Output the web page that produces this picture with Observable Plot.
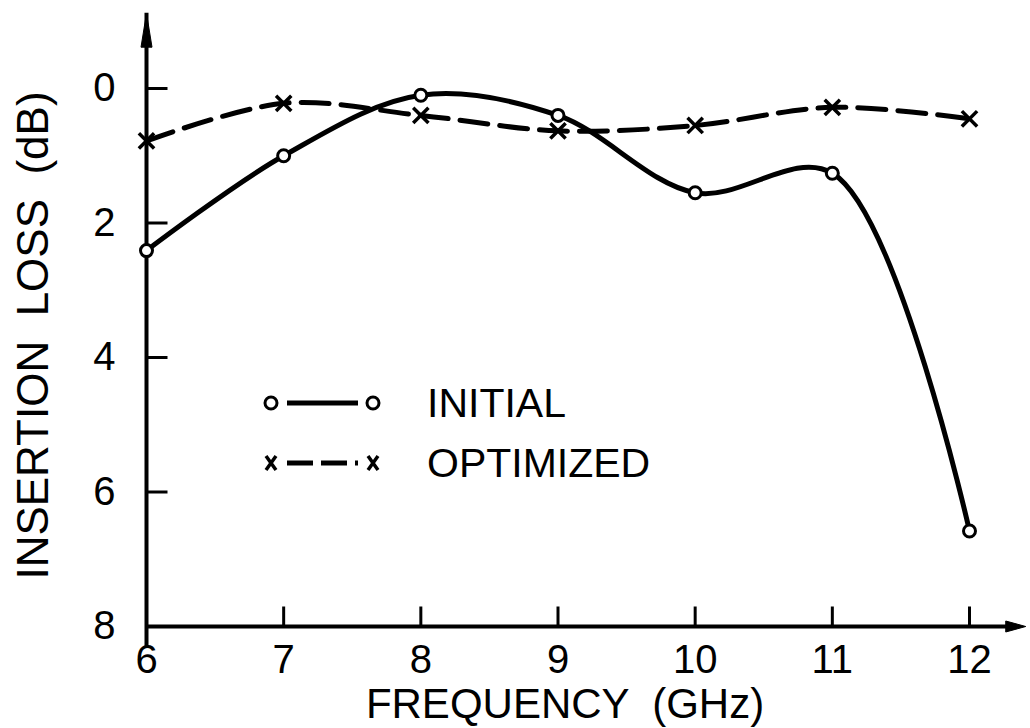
<!DOCTYPE html>
<html><head><meta charset="utf-8">
<script src="https://cdn.jsdelivr.net/npm/d3@7"></script>
<script src="https://cdn.jsdelivr.net/npm/@observablehq/plot@0.6"></script>
<style>
html,body{margin:0;padding:0;background:#fff;}
#wrap{position:relative;width:1030px;height:728px;overflow:hidden;}
#legend{position:absolute;left:0;top:0;}
</style></head><body><div id="wrap"></div>
<script>
const frequencies = [6, 7, 8, 9, 10, 11, 12];
const initialLoss = [2.41, 1.0, 0.1, 0.4, 1.55, 1.26, 6.58];
const optimizedLoss = [0.78, 0.22, 0.4, 0.63, 0.55, 0.28, 0.45];
const xTicks = [6, 7, 8, 9, 10, 11, 12];
const yTicks = [0, 2, 4, 6, 8];
const seriesNames = ["INITIAL", "OPTIMIZED"];
const xTitle = "FREQUENCY  (GHz)";
const yTitle = "INSERTION  LOSS  (dB)";
const xAxisEnd = 12.41;
const yAxisEnd = -1.12;

const initial = frequencies.map((f, i) => ({f, v: initialLoss[i]}));
const optimized = frequencies.map((f, i) => ({f, v: optimizedLoss[i]}));
const font = "'Liberation Sans', Arial, sans-serif";
const xMin = xTicks[0], yMax = yTicks[yTicks.length - 1];

// custom symbols drawn in screen pixels relative to the anchor point
const headUp = {draw(ctx) { ctx.moveTo(0, 0); ctx.lineTo(5.5, 34); ctx.lineTo(-5.5, 34); ctx.closePath(); }};
const headRight = {draw(ctx) { ctx.moveTo(0, 0); ctx.lineTo(-20, 5.5); ctx.lineTo(-20, -5.5); ctx.closePath(); }};
const tickUp = {draw(ctx) { ctx.moveTo(0, 0); ctx.lineTo(0, -20); }};
const tickRight = {draw(ctx) { ctx.moveTo(0, 0); ctx.lineTo(21, 0); }};

const chart = Plot.plot({
  width: 1030, height: 728,
  marginLeft: 146, marginRight: 61, marginTop: 88, marginBottom: 102,
  style: {fontFamily: font, background: "#fff", color: "#000", overflow: "visible"},
  x: {domain: [xMin, xTicks[xTicks.length - 1]]},
  y: {domain: [yTicks[0], yMax], reverse: true},
  marks: [
    // tick labels (tick marks drawn separately, pointing inward)
    Plot.axisX({ticks: xTicks, tickSize: 0, tickPadding: 18, fontSize: 40, label: null, tickFormat: d => String(d)}),
    Plot.axisY({ticks: yTicks, tickSize: 0, tickPadding: 31, fontSize: 40, label: null, tickFormat: d => String(d)}),
    Plot.dot(xTicks.filter(d => d > xMin), {x: d => d, y: yMax, symbol: tickUp, stroke: "#000", strokeWidth: 3, fill: "none"}),
    Plot.dot(yTicks.filter(d => d < yMax), {x: xMin, y: d => d, symbol: tickRight, stroke: "#000", strokeWidth: 3, fill: "none"}),
    // axis lines with filled arrow heads
    Plot.ruleX([xMin], {y1: yMax, y2: yAxisEnd, stroke: "#000", strokeWidth: 4, insetTop: 20}),
    Plot.ruleY([yMax], {x1: xMin, x2: xAxisEnd, stroke: "#000", strokeWidth: 4, insetRight: 10}),
    Plot.dot([{x: xMin, y: yAxisEnd}], {x: "x", y: "y", symbol: headUp, fill: "#000", stroke: "#000", strokeWidth: 1}),
    Plot.dot([{x: xAxisEnd, y: yMax}], {x: "x", y: "y", symbol: headRight, fill: "#000", stroke: "#000", strokeWidth: 1}),
    Plot.line(initial, {x: "f", y: "v", curve: "catmull-rom", stroke: "#000", strokeWidth: 5}),
    Plot.line(optimized, {x: "f", y: "v", curve: "catmull-rom", stroke: "#000", strokeWidth: 5, strokeDasharray: "28,12"}),
    Plot.dot(initial, {x: "f", y: "v", r: 6, fill: "#fff", stroke: "#000", strokeWidth: 3}),
    Plot.dot(optimized, {x: "f", y: "v", symbol: "times", r: 7, stroke: "#000", strokeWidth: 3.5}),
    Plot.text([yTitle], {frameAnchor: "left", textAnchor: "middle", lineAnchor: "middle", rotate: -90, dx: -113, dy: -22, fontSize: 44, fill: "#000"}),
    Plot.text([xTitle], {frameAnchor: "bottom", textAnchor: "middle", lineAnchor: "middle", dx: 7, dy: 78, fontSize: 42, fill: "#000"})
  ]
});
const wrap = document.getElementById("wrap");
wrap.appendChild(chart);

// legend overlay
const ns = "http://www.w3.org/2000/svg";
const lg = document.createElementNS(ns, "svg");
lg.setAttribute("id", "legend");
lg.setAttribute("width", 1030);
lg.setAttribute("height", 728);
lg.style.fontFamily = font;
const rows = [
  {y: 403, name: seriesNames[0], dash: null, sym: "circle"},
  {y: 463, name: seriesNames[1], dash: "26,8", sym: "times"}
];
function el(tag, attrs) { const e = document.createElementNS(ns, tag); for (const k in attrs) e.setAttribute(k, attrs[k]); lg.appendChild(e); return e; }
for (const r of rows) {
  el("line", {x1: 287, x2: 358, y1: r.y, y2: r.y, stroke: "#000", "stroke-width": 5, "stroke-dasharray": r.dash || "none"});
  for (const cx of [271, 373]) {
    if (r.sym === "circle") el("circle", {cx, cy: r.y, r: 6, fill: "#fff", stroke: "#000", "stroke-width": 3});
    else el("path", {d: `M${cx-5},${r.y-7}L${cx+5},${r.y+7}M${cx+5},${r.y-7}L${cx-5},${r.y+7}`, stroke: "#000", "stroke-width": 3.5, fill: "none"});
  }
  const t = el("text", {x: 427, y: r.y, "font-size": 41, "dominant-baseline": "central", fill: "#000"});
  t.textContent = r.name;
}
wrap.appendChild(lg);
</script></body></html>
